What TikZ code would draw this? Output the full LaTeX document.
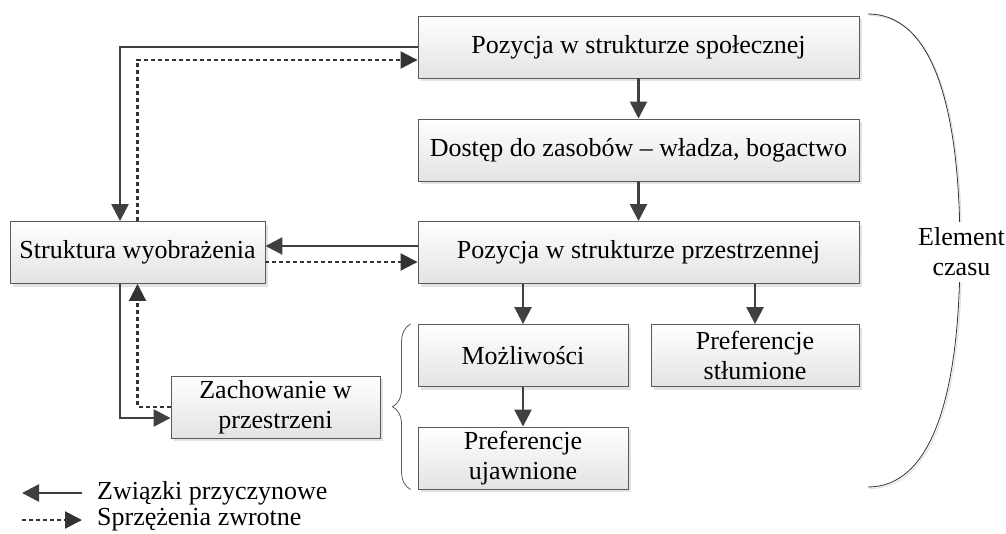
\documentclass[tikz,border=0pt]{standalone}
\usepackage{fontspec}
\setmainfont{Liberation Serif}
\usetikzlibrary{arrows.meta,shadows,decorations.pathreplacing}
\definecolor{linegray}{HTML}{404040}
\definecolor{boxgray}{HTML}{5A5A5A}

\begin{document}
\begin{tikzpicture}[x=1pt,y=-1pt]
    % Define styles for the boxes, arrows and texts
    \tikzstyle{box} = [rectangle, draw=boxgray, line width=0.9pt, top color=white, bottom color=gray!22, drop shadow={shadow xshift=3pt, shadow yshift=-3pt, fill=gray!22, opacity=1}, minimum height=62pt, inner sep=2pt, align=center, font=\fontsize{26pt}{30pt}\selectfont]
    \tikzstyle{cause} = [draw=linegray, line width=2.6pt, -{Triangle[length=17pt,width=17pt]}]
    \tikzstyle{feedback} = [draw=linegray!80!black, line width=2.1pt, dash pattern=on 4pt off 3pt, -{Triangle[length=17pt,width=17pt]}]
    \tikzstyle{txt} = [inner sep=2pt, align=center, font=\fontsize{26pt}{30pt}\selectfont]
    \tikzstyle{timeline} = [draw=black!80, line width=0.8pt, preaction={draw=gray!25, line width=1pt, transform canvas={shift={(1.5pt,-1.5pt)}}}]

    \useasboundingbox (0,0) rectangle (1006,533);

    % Draw the boxes
    \node[box, minimum width=441pt] (spol) at (638.5,47) {Pozycja w strukturze społecznej};
    \node[box, minimum width=441pt] (dost) at (638.5,150) {Dostęp do zasobów – władza, bogactwo};
    \node[box, minimum width=441pt] (przest) at (638.5,252.5) {Pozycja w strukturze przestrzennej};
    \node[box, minimum width=255pt] (wyobr) at (137.5,252.5) {Struktura wyobrażenia};
    \node[box, minimum width=210pt] (mozl) at (523,355.5) {Możliwości};
    \node[box, minimum width=210pt] (ujaw) at (523,458) {Preferencje\\ujawnione};
    \node[box, minimum width=208pt] (stlum) at (755,355.5) {Preferencje\\stłumione};
    \node[box, minimum width=209pt] (zach) at (275.5,407) {Zachowanie w\\przestrzeni};

    % Draw the causal arrows
    \draw[cause] (spol) -- (dost);
    \draw[cause] (dost) -- (przest);
    \draw[cause] (przest.south -| mozl.north) -- (mozl.north);
    \draw[cause] (przest.south -| stlum.north) -- (stlum.north);
    \draw[cause] (mozl) -- (ujaw);
    \draw[cause] (spol.west) -| ([xshift=-17.5pt]wyobr.north);
    \draw[cause] ([yshift=6.5pt]przest.west) -- ([yshift=6.5pt]wyobr.east);
    \draw[cause] ([xshift=-17.5pt]wyobr.south) |- ([yshift=-11pt]zach.west);

    % Draw the feedback arrows
    \draw[feedback] (wyobr.north) |- ([yshift=-13pt]spol.west);
    \draw[feedback] ([yshift=-9.5pt]wyobr.east) -- ([yshift=-9.5pt]przest.west);
    \draw[feedback] (zach.west) -| (wyobr.south);

    % Draw the brace and the time element
    \draw[draw=boxgray, line width=0.8pt, decorate, decoration={brace, amplitude=18pt}] ([xshift=-7pt]ujaw.south west) -- ([xshift=-7pt]mozl.north west);
    \coordinate (ctop) at (868,14);
    \coordinate (cbot) at (868,487);
    \draw[timeline] (ctop) .. controls (930,14) and (960,100) .. (960,250) .. controls (960,400) and (930,487) .. (cbot);
    \node[txt, fill=white, inner ysep=6pt] (czas) at (961.5,252) {Element\\czasu};

    % Draw the legend
    \node[txt, anchor=west] (lcause) at (95,493) {Związki przyczynowe};
    \node[txt, anchor=west] (lfeed) at (95,520) {Sprzężenia zwrotne};
    \coordinate (lc1) at (82,493);
    \coordinate (lc2) at (22,493);
    \coordinate (lf1) at (22,520);
    \coordinate (lf2) at (82,520);
    \draw[cause] (lc1) -- (lc2);
    \draw[feedback] (lf1) -- (lf2);
\end{tikzpicture}
\end{document}
